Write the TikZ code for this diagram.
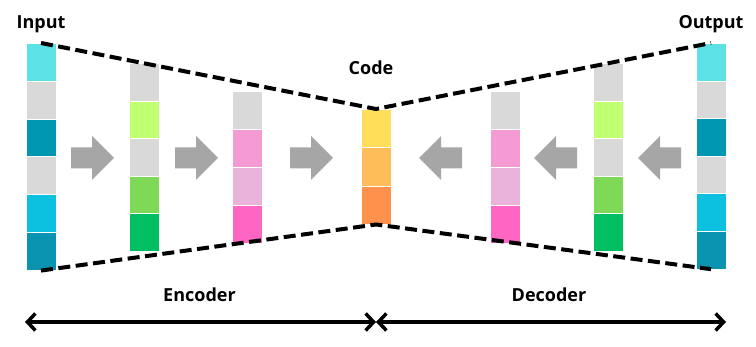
\documentclass[tikz,border=0pt]{standalone}
\usepackage{fontspec}
\setmainfont{Open Sans}
\usetikzlibrary{arrows.meta}
\definecolor{cyanL}{HTML}{5CE1E6}
\definecolor{greyC}{HTML}{D9D9D9}
\definecolor{tealA}{HTML}{0097B2}
\definecolor{skyC}{HTML}{0CC0DF}
\definecolor{tealB}{HTML}{0A94B1}
\definecolor{limeC}{HTML}{C1FF72}
\definecolor{greenC}{HTML}{7ED957}
\definecolor{dgreenC}{HTML}{00BF63}
\definecolor{pinkA}{HTML}{F49BD3}
\definecolor{pinkB}{HTML}{E9B3DC}
\definecolor{pinkC}{HTML}{FF66C4}
\definecolor{yelC}{HTML}{FFDE59}
\definecolor{oraA}{HTML}{FFBD59}
\definecolor{oraB}{HTML}{FF914D}
\definecolor{arrowgray}{HTML}{A6A6A6}
\begin{document}
\begin{tikzpicture}[x=1pt,y=-1pt,
  cell/.style={minimum width=30pt,inner sep=0pt,draw=white,line width=0.6pt,anchor=north},
  dashline/.style={line width=4pt,dash pattern=on 12pt off 5.5pt},
  lbl/.style={font=\fontsize{18}{20}\selectfont\bfseries,anchor=base,inner sep=0pt},
  span/.style={line width=3.5pt,{Straight Barb[length=8pt,width=17pt,line width=3.5pt]}-{Straight Barb[length=8pt,width=17pt,line width=3.5pt]}},
  blockarrow/.pic={\fill[arrowgray] (0,-10.5) -- (21,-10.5) -- (21,-22) -- (43,0) -- (21,22) -- (21,10.5) -- (0,10.5) -- cycle;}
]
\useasboundingbox (0,0) rectangle (756,347);

% encoder / input column
\foreach \c [count=\i] in {cyanL,greyC,tealA,greyC,skyC,tealB}
  \node[cell,minimum height=37.83pt,fill=\c] (in\i) at (41,{43+(\i-1)*37.83}) {};
\foreach \c [count=\i] in {greyC,limeC,greyC,greenC,dgreenC}
  \node[cell,minimum height=37.6pt,fill=\c] (ea\i) at (144,{63+(\i-1)*37.6}) {};
\foreach \c [count=\i] in {greyC,pinkA,pinkB,pinkC}
  \node[cell,minimum height=38pt,fill=\c] (eb\i) at (247,{91+(\i-1)*38}) {};
% code
\foreach \c [count=\i] in {yelC,oraA,oraB}
  \node[cell,minimum height=38.3pt,fill=\c] (code\i) at (376,{109+(\i-1)*38.3}) {};
% decoder
\foreach \c [count=\i] in {greyC,pinkA,pinkB,pinkC}
  \node[cell,minimum height=38pt,fill=\c] (db\i) at (505,{91+(\i-1)*38}) {};
\foreach \c [count=\i] in {greyC,limeC,greyC,greenC,dgreenC}
  \node[cell,minimum height=37.6pt,fill=\c] (da\i) at (608,{63+(\i-1)*37.6}) {};
\foreach \c [count=\i] in {cyanL,greyC,tealA,greyC,skyC,tealB}
  \node[cell,minimum height=37.6pt,fill=\c] (out\i) at (711,{43+(\i-1)*37.6}) {};

% dashed outline
\draw[dashline] (in1.north) -- (code1.north) -- (out1.north);
\draw[dashline] (in6.south) -- (code3.south) -- (out6.south);

% block arrows
\pic at (71,158) {blockarrow};
\pic at (175,158) {blockarrow};
\pic at (290,158) {blockarrow};
\pic[xscale=-1] at (462,158) {blockarrow};
\pic[xscale=-1] at (577,158) {blockarrow};
\pic[xscale=-1] at (681,158) {blockarrow};

% labels
\node[lbl] (tin) at (41,29) {Input};
\node[lbl] (tout) at (711,29) {Output};
\node[lbl] (tcode) at (371,75) {Code};
\node[lbl] (tenc) at (199.5,302) {Encoder};
\node[lbl] (tdec) at (549,302) {Decoder};

% span arrows
\coordinate (encL) at (25,322);
\coordinate (mid) at (376,322);
\coordinate (decR) at (726,322);
\draw[span] (encL) -- (mid);
\draw[span] (mid) -- (decR);
\end{tikzpicture}
\end{document}
